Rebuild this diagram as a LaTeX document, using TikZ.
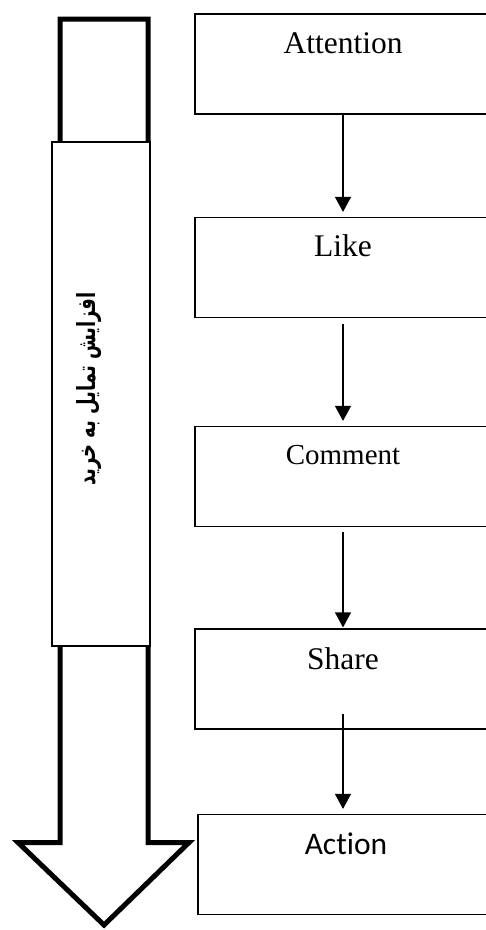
\documentclass[tikz,border=0pt]{standalone}
\usepackage{fontspec}
\setmainfont{Liberation Serif}
\newfontfamily\calfont[RawFeature=-liga]{Carlito}
\newfontfamily\farsifont[Script=Arabic]{DejaVu Sans}
\TeXXeTstate=1
\usetikzlibrary{arrows.meta}
\tikzset{
  stage/.style={draw, line width=1.2pt, minimum width=296pt, minimum height=100pt, inner sep=0pt},
  stagetext/.style={anchor=base, inner sep=0pt, font=\fontsize{31.5}{36}\selectfont},
  flow/.style={line width=1.2pt, -{Triangle[length=15pt,width=16pt]}},
}
\begin{document}
\begin{tikzpicture}[x=1pt,y=-1pt]
\useasboundingbox (0,0) rectangle (486,930);

% big arrow on the left
\draw[line width=5pt] (60,19) -- (148,19) -- (148,842.5) -- (189,842.5) -- (104,925) -- (18,842.5) -- (60,842.5) -- cycle;
\node[draw, fill=white, line width=1.2pt, minimum width=98pt, minimum height=504pt, inner sep=0pt] (bar) at (101,394) {};
\node[rotate=90, inner sep=0pt, font=\fontsize{25}{29}\selectfont\farsifont\bfseries] (want) at (89,389) {\scalebox{0.72}[1]{\beginR افزایش تمایل به خرید\endR}};

% stages
\node[stage] (att) at (343,64) {};
\node[stagetext] (att-t) at ([yshift=-40pt]att.north) {Attention};

\node[stage] (like) at (343,267.5) {};
\node[stagetext] (like-t) at ([yshift=-40pt]like.north) {Like};

\node[stage] (com) at (343,476.5) {};
\node[stagetext, font=\fontsize{29}{34}\selectfont] (com-t) at ([yshift=-39pt]com.north) {Comment};

\node[stage] (share) at (343,679) {};
\node[stagetext] (share-t) at ([yshift=-41pt]share.north) {Share};

\node[stage] (act) at (346,864.5) {};
\node[stagetext, font=\fontsize{31.5}{36}\selectfont\calfont] (act-t) at ([yshift=-41pt]act.north) {Action};

% arrows between stages
\draw[flow, shorten >=5pt] (att.south) -- (like.north);
\draw[flow, shorten <=6pt, shorten >=5pt] (like.south) -- (com.north);
\draw[flow, shorten <=5pt, shorten >=1pt] (com.south) -- (share.north);
\draw[flow, shorten <=-16pt, shorten >=5pt] (share.south) -- (share.south |- act.north);

\end{tikzpicture}
\end{document}
